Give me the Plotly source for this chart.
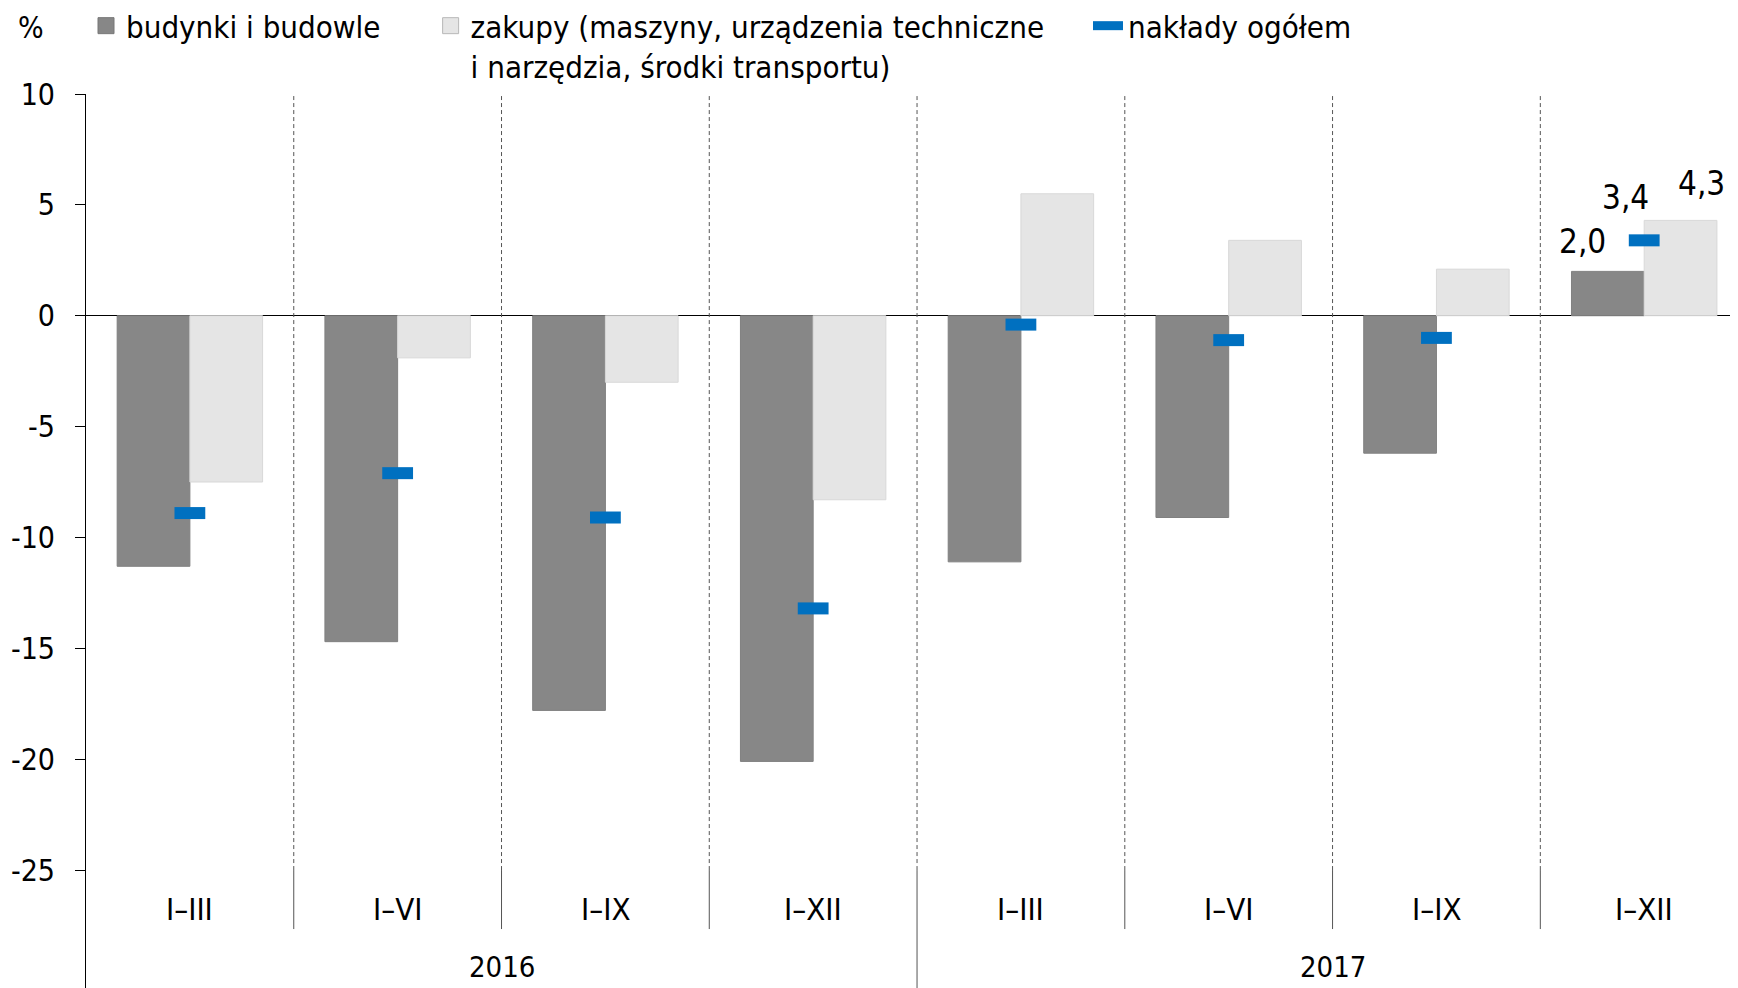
import plotly.graph_objects as go

periods = ["I–III", "I–VI", "I–IX", "I–XII", "I–III", "I–VI", "I–IX", "I–XII"]
years = ["2016", "2017"]
budynki = [-11.3, -14.7, -17.8, -20.1, -11.1, -9.1, -6.2, 2.0]
zakupy = [-7.5, -1.9, -3.0, -8.3, 5.5, 3.4, 2.1, 4.3]
naklady = [-8.9, -7.1, -9.1, -13.2, -0.4, -1.1, -1.0, 3.4]
y_ticks = [10, 5, 0, -5, -10, -15, -20, -25]

FONT = "DejaVu Sans Condensed, Liberation Sans Narrow, Roboto, sans-serif"
DARK = "#878787"
LIGHT = "#e5e5e5"
BLUE = "#0070c0"

x = list(range(len(periods)))
n = len(periods)
per_year = n // len(years)
y_bottom = -30.68

fig = go.Figure()
fig.add_trace(go.Bar(x=x, y=budynki, marker_color=DARK, showlegend=False,
                     marker_line=dict(color="#808080", width=1)))
fig.add_trace(go.Bar(x=x, y=zakupy, marker_color=LIGHT, showlegend=False,
                     marker_line=dict(color="#d8d8d8", width=1)))
fig.add_trace(go.Scatter(x=x, y=naklady, mode="markers", showlegend=False,
                         marker=dict(symbol="line-ew", size=22, line=dict(color=BLUE, width=12))))

# legend-only entries
fig.add_trace(go.Scatter(x=[None], y=[None], mode="markers", name="budynki i budowle", legend="legend",
                         marker=dict(symbol="square", size=18, color=DARK, line=dict(color="#777777", width=1))))
fig.add_trace(go.Scatter(x=[None], y=[None], mode="markers",
                         name="zakupy (maszyny, urządzenia techniczne<br>i narzędzia, środki transportu)",
                         legend="legend2",
                         marker=dict(symbol="square", size=18, color=LIGHT, line=dict(color="#b8b8b8", width=1))))
fig.add_trace(go.Scatter(x=[None], y=[None], mode="lines", name="nakłady ogółem",
                         line=dict(color=BLUE, width=9), legend="legend3"))

shapes = []
for i in range(n - 1):
    b = i + 0.5
    shapes.append(dict(type="line", xref="x", yref="y", x0=b, x1=b, y0=y_ticks[-1], y1=y_ticks[0],
                       line=dict(color="#555555", width=1, dash="4px,3px")))
    bottom = y_bottom if (i + 1) % per_year == 0 else -27.66
    shapes.append(dict(type="line", xref="x", yref="y", x0=b, x1=b, y0=y_ticks[-1], y1=bottom,
                       line=dict(color="#555555", width=1)))

annotations = []
for i, p in enumerate(periods):
    annotations.append(dict(x=i, y=-26.76, xref="x", yref="y", text=p, showarrow=False,
                            font=dict(size=31, color="black")))
for k, yr in enumerate(years):
    annotations.append(dict(x=k * per_year + (per_year - 1) / 2, y=-29.35, xref="x", yref="y", text=yr,
                            showarrow=False, font=dict(size=29, color="black")))

last = n - 1
def fmt(v):
    return f"{v:.1f}".replace(".", ",")
annotations.append(dict(x=last, y=budynki[last], xref="x", yref="y", text=fmt(budynki[last]),
                        showarrow=False, xshift=-62, yshift=30, font=dict(size=33, color="black")))
annotations.append(dict(x=last, y=naklady[last], xref="x", yref="y", text=fmt(naklady[last]),
                        showarrow=False, xshift=-19, yshift=43, font=dict(size=33, color="black")))
annotations.append(dict(x=last, y=zakupy[last], xref="x", yref="y", text=fmt(zakupy[last]),
                        showarrow=False, xshift=57, yshift=37, font=dict(size=33, color="black")))
annotations.append(dict(x=-0.0331, y=1.0735, xref="paper", yref="paper", text="%", showarrow=False,
                        xanchor="center", yanchor="middle", font=dict(size=30, color="black")))

legend_common = dict(orientation="h", yanchor="top", xanchor="left", bgcolor="rgba(0,0,0,0)",
                     font=dict(size=31, color="black", family=FONT), valign="top")

fig.update_layout(
    width=1738, height=988,
    margin=dict(l=78, r=0, t=86, b=0, autoexpand=False),
    plot_bgcolor="white", paper_bgcolor="white",
    font=dict(family=FONT, size=30, color="black"),
    barmode="group", bargap=0.30, bargroupgap=0,
    xaxis=dict(range=[-0.5, 7.49], showticklabels=False, showgrid=False, zeroline=False,
               showline=False, ticks="", automargin=False),
    yaxis=dict(range=[y_bottom, 10], tickvals=y_ticks, ticktext=[str(v) for v in y_ticks],
               showgrid=False, zeroline=True, zerolinecolor="black", zerolinewidth=1,
               showline=True, linecolor="black", linewidth=1, ticks="outside", ticklen=10,
               tickcolor="black", tickfont=dict(size=30), ticklabelstandoff=14, automargin=False),
    legend=dict(x=0.0, y=1.1053, **legend_common),
    legend2=dict(x=0.2076, y=1.1053, **legend_common),
    legend3=dict(x=0.6036, y=1.1053, **legend_common),
    shapes=shapes,
    annotations=annotations,
)

fig.write_html("out.html")
